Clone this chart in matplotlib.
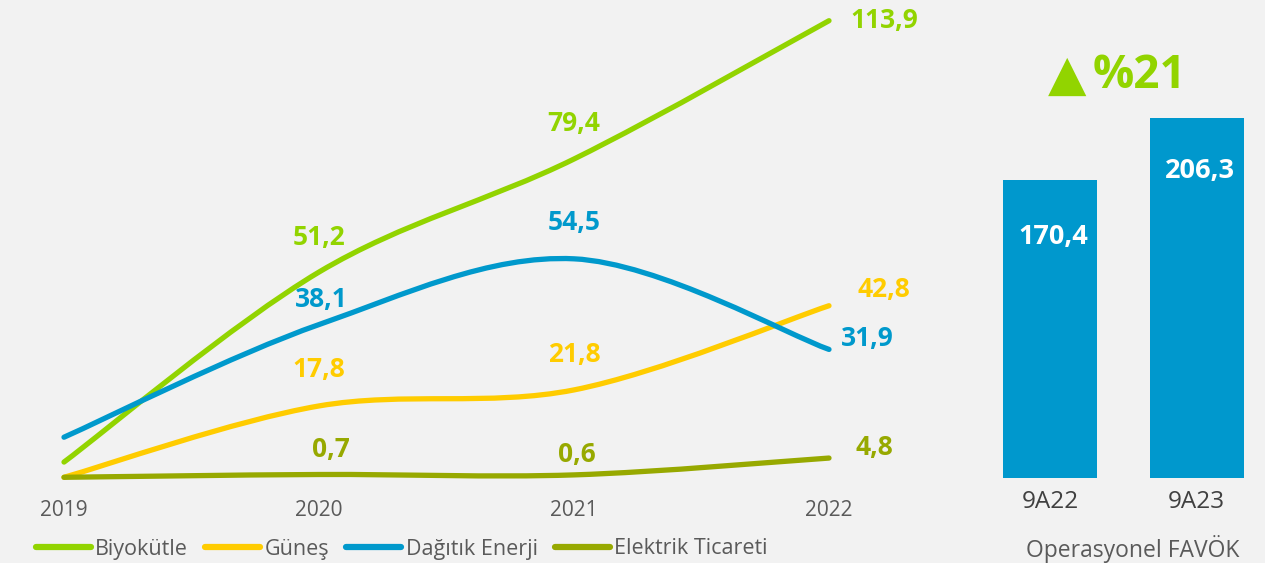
import matplotlib
matplotlib.use("Agg")
import matplotlib.pyplot as plt
from matplotlib.path import Path
from matplotlib.patches import PathPatch
from matplotlib.lines import Line2D
import numpy as np

# ---------------- data ----------------
years = [2019, 2020, 2021, 2022]
series_names = ["Biyokütle", "Güneş", "Dağıtık Enerji", "Elektrik Ticareti"]
biyokutle = [3.8, 51.2, 79.4, 113.9]
gunes = [0.0, 17.8, 21.8, 42.8]
dagitik = [10.0, 38.1, 54.5, 31.9]
elektrik = [0.0, 0.7, 0.6, 4.8]
bar_categories = ["9A22", "9A23"]
bar_values = [170.4, 206.3]
bar_title = "Operasyonel FAVÖK"
growth_arrow = "▲"
growth_text = "%21"

# ---------------- style ----------------
BG = "#F2F2F2"
colors = ["#92D400", "#FFCC00", "#0099CC", "#97A900"]
BAR_COLOR = "#0098CD"
TXT = "#5A5A5A"
FONT = ["Open Sans", "DejaVu Sans"]
plt.rcParams["font.family"] = FONT

W, H = 1265, 563
fig = plt.figure(figsize=(W / 100, H / 100), dpi=100, facecolor=BG)


def px_axes(x0, y0_top, x1, y1_top):
    return fig.add_axes([x0 / W, 1 - y1_top / H, (x1 - x0) / W, (y1_top - y0_top) / H])


# ---------------- line chart ----------------
ax = px_axes(30, 0, 960, 490)
ax.set_facecolor(BG)
ppy = (829 - 64) / 3.0  # px per year
ax.set_xlim(2019 - (64 - 30) / ppy, 2022 + (960 - 829) / ppy)
ppu = (477.3 - 20.7) / 113.9  # px per unit
ax.set_ylim(-(490 - 477.3) / ppu, 477.3 / ppu)
for s in ax.spines.values():
    s.set_visible(False)
ax.set_yticks([])
ax.set_xticks(years)
ax.set_xticklabels([str(y) for y in years], fontsize=15, color=TXT)
ax.tick_params(axis="x", length=0, pad=7)


def smooth_path(xs, ys):
    pts = np.column_stack([xs, ys]).astype(float)
    n = len(pts)
    verts = [pts[0]]
    codes = [Path.MOVETO]
    for i in range(n - 1):
        p0 = pts[i - 1] if i > 0 else pts[i]
        p1 = pts[i]
        p2 = pts[i + 1]
        p3 = pts[i + 2] if i + 2 < n else pts[i + 1]
        c1 = p1 + (p2 - p0) / 6.0
        c2 = p2 - (p3 - p1) / 6.0
        verts += [c1, c2, p2]
        codes += [Path.CURVE4] * 3
    return Path(verts, codes)


all_series = [biyokutle, gunes, dagitik, elektrik]
for vals, c in zip(all_series, colors):
    patch = PathPatch(smooth_path(years, vals), facecolor="none", edgecolor=c,
                      lw=3.8, capstyle="round", joinstyle="round")
    ax.add_patch(patch)

# label offsets (pixels) per series, for points 2020..2022
offsets = [
    [(0, 35), (0, 36), (55, 0)],
    [(0, 36), (0, 35), (55, 16)],
    [(2, 25), (0, 36), (38, 11)],
    [(12, 25), (3, 20), (45, 11)],
]
for vals, c, offs in zip(all_series, colors, offsets):
    for yr, v, off in zip(years[1:], vals[1:], offs):
        ax.annotate(f"{v:.1f}".replace(".", ","), (yr, v), xytext=off,
                    textcoords="offset pixels", ha="center", va="center",
                    fontsize=19, fontweight="bold", color=c)

handles = [Line2D([0], [0], color=c, lw=4.5, solid_capstyle="round") for c in colors]
fig.legend(handles, series_names, loc="center left", bbox_to_anchor=(36 / W, 1 - 549 / H),
           ncol=4, frameon=False, fontsize=15.5, labelcolor=TXT, handlelength=2.55,
           handletextpad=0.2, columnspacing=0.8, borderaxespad=0, borderpad=0)

# ---------------- bar chart ----------------
bx0 = 1050 - 146.5 / 2
bax = px_axes(bx0, 10, bx0 + 293, 478)
bax.set_facecolor(BG)
bax.set_xlim(-0.5, 1.5)
s_bar = 1.747
bax.set_ylim(0, 468 / s_bar)
xpos = np.arange(len(bar_values))
bax.bar(xpos, bar_values, width=94 / 146.5, color=BAR_COLOR)
for s in bax.spines.values():
    s.set_visible(False)
bax.set_yticks([])
bax.set_xticks(xpos)
bax.set_xticklabels(bar_categories, fontsize=17.5, color="#404040")
bax.tick_params(axis="x", length=0, pad=9)
for xp, v in zip(xpos, bar_values):
    bax.annotate(f"{v:.1f}".replace(".", ","), (xp, v), xytext=(3, -57 if xp == 0 else -53),
                 textcoords="offset pixels", ha="center", va="center",
                 fontsize=19.5, fontweight="bold", color="white")
fig.text(1133 / W, 1 - 549 / H, bar_title, ha="center", va="center",
         fontsize=16.5, color=TXT)
fig.text(1067 / W, 1 - 76 / H, growth_arrow, ha="center", va="center",
         fontsize=36, color=colors[0], family=["DejaVu Sans"])
fig.text(1139 / W, 1 - 76 / H, growth_text, ha="center", va="center",
         fontsize=33, fontweight="bold", color=colors[0])

fig.savefig("out.png", dpi=100, facecolor=BG)
